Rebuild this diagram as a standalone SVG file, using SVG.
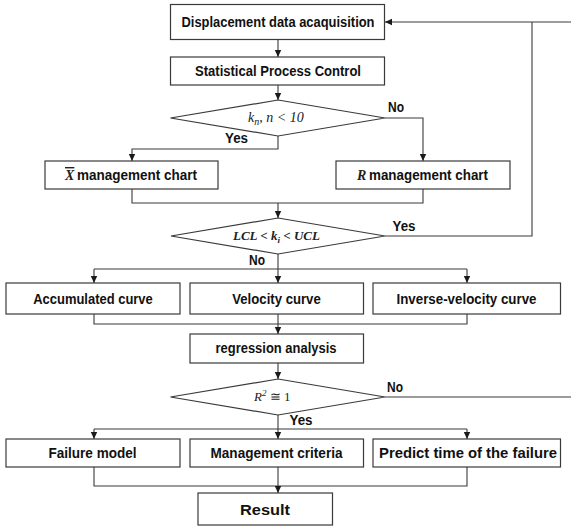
<svg xmlns="http://www.w3.org/2000/svg" width="571" height="526" viewBox="0 0 571 526">
<style>
.box{fill:#fff;stroke:#3a3a3a;stroke-width:1.2}
.t{font-family:"Liberation Sans",Arial,sans-serif;font-weight:bold;font-size:14px;fill:#111;text-anchor:middle}
.lb{font-family:"Liberation Sans",Arial,sans-serif;font-weight:bold;font-size:14px;fill:#111}
.m{font-family:"Liberation Serif","Times New Roman",serif;font-style:italic;font-size:13px;fill:#222}
.c{fill:none;stroke:#3a3a3a;stroke-width:1.1}
.a{fill:none;stroke:#3a3a3a;stroke-width:1.1;marker-end:url(#ah)}
</style>
<defs>
<marker id="ah" markerWidth="8" markerHeight="8" refX="7" refY="4" orient="auto" markerUnits="userSpaceOnUse">
<path d="M0,0.8 L7,4 L0,7.2 Z" fill="#1a1a1a"/>
</marker>
</defs>
<rect width="571" height="526" fill="#fff"/>
<g id="connectors">
<line class="a" x1="278" y1="39.5" x2="278" y2="57"/>
<line class="a" x1="278" y1="85" x2="278" y2="100"/>
<polyline class="a" points="278,136 278,149 132,149 132,161"/>
<polyline class="a" points="385,118 423,118 423,161"/>
<polyline class="c" points="132,189 132,203 423,203 423,189"/>
<line class="a" x1="278" y1="203" x2="278" y2="218"/>
<polyline class="c" points="385,236 532,236 532,22"/>
<line class="a" x1="571" y1="22" x2="385" y2="22"/>
<line class="c" x1="278" y1="254" x2="278" y2="269"/>
<line class="c" x1="94" y1="269" x2="467" y2="269"/>
<line class="a" x1="94" y1="269" x2="94" y2="283"/>
<line class="a" x1="278" y1="269" x2="278" y2="283"/>
<line class="a" x1="467" y1="269" x2="467" y2="283"/>
<polyline class="c" points="94,314 94,324 467,324 467,314"/>
<line class="c" x1="278" y1="314" x2="278" y2="324"/>
<line class="a" x1="278" y1="324" x2="278" y2="334"/>
<line class="a" x1="278" y1="363" x2="278" y2="379"/>
<line class="c" x1="385" y1="397" x2="571" y2="397"/>
<line class="c" x1="278" y1="415" x2="278" y2="429"/>
<line class="c" x1="94" y1="429" x2="467" y2="429"/>
<line class="a" x1="94" y1="429" x2="94" y2="439"/>
<line class="a" x1="278" y1="429" x2="278" y2="439"/>
<line class="a" x1="467" y1="429" x2="467" y2="439"/>
<polyline class="c" points="94,467 94,486 467,486 467,467"/>
<line class="c" x1="278" y1="467" x2="278" y2="486"/>
<line class="a" x1="278" y1="486" x2="278" y2="493"/>
<text class="lb" x="388" y="112" textLength="16" lengthAdjust="spacingAndGlyphs">No</text>
<text class="lb" x="225" y="143" textLength="23" lengthAdjust="spacingAndGlyphs">Yes</text>
<text class="lb" x="392.5" y="231" textLength="23" lengthAdjust="spacingAndGlyphs">Yes</text>
<text class="lb" x="249" y="265" textLength="16" lengthAdjust="spacingAndGlyphs">No</text>
<text class="lb" x="387" y="392" textLength="16" lengthAdjust="spacingAndGlyphs">No</text>
<text class="lb" x="289.5" y="425" textLength="23" lengthAdjust="spacingAndGlyphs">Yes</text>
</g>
<g id="n1"><rect class="box" x="170.5" y="4.5" width="214" height="35"/><text class="t" x="278" y="27" textLength="193" lengthAdjust="spacingAndGlyphs">Displacement data acaquisition</text></g>
<g id="n2"><rect class="box" x="170.5" y="57" width="214" height="28"/><text class="t" x="278" y="76" textLength="166" lengthAdjust="spacingAndGlyphs">Statistical Process Control</text></g>
<g id="d1"><polygon class="box" points="278,100 385,118 278,136 170.5,118"/><text class="m" x="248" y="122" style="font-size:14px">k<tspan style="font-size:10px" dy="3">n</tspan><tspan dy="-3">, n &lt; 10</tspan></text></g>
<g id="nX"><rect class="box" x="45" y="161" width="173" height="28"/><text class="m" x="65" y="180" style="font-size:14px;font-weight:bold" text-decoration="overline">X</text><text class="lb" x="77" y="180" textLength="120" lengthAdjust="spacingAndGlyphs">management chart</text></g>
<g id="nR"><rect class="box" x="336" y="161" width="174" height="28"/><text class="m" x="357" y="180" style="font-size:14px;font-weight:bold">R</text><text class="lb" x="369" y="180" textLength="119" lengthAdjust="spacingAndGlyphs">management chart</text></g>
<g id="d2"><polygon class="box" points="278,218 385,236 278,254 171,236"/><text class="m" x="233" y="240" style="font-weight:bold">LCL &lt; k<tspan style="font-size:9px" dy="3">i</tspan><tspan dy="-3"> &lt; UCL</tspan></text></g>
<g id="n3"><rect class="box" x="6" y="283" width="174" height="31"/><text class="t" x="93" y="303.5" textLength="119.5" lengthAdjust="spacingAndGlyphs">Accumulated curve</text></g>
<g id="n4"><rect class="box" x="190" y="283" width="173.5" height="31"/><text class="t" x="276.5" y="303.5" textLength="88.5" lengthAdjust="spacingAndGlyphs">Velocity curve</text></g>
<g id="n5"><rect class="box" x="373" y="283" width="187.5" height="31"/><text class="t" x="466.5" y="303.5" textLength="140" lengthAdjust="spacingAndGlyphs">Inverse-velocity curve</text></g>
<g id="n6"><rect class="box" x="190" y="334" width="173.5" height="29"/><text class="t" x="276" y="353" textLength="121" lengthAdjust="spacingAndGlyphs">regression analysis</text></g>
<g id="d3"><polygon class="box" points="278,379 385,397 278,415 170.5,397"/><text class="m" x="254" y="401">R<tspan style="font-size:9px" dy="-5">2</tspan><tspan dy="5" style="font-style:normal"> ≅ 1</tspan></text></g>
<g id="n7"><rect class="box" x="6" y="439" width="174" height="28"/><text class="t" x="92.5" y="457.5" textLength="88" lengthAdjust="spacingAndGlyphs">Failure model</text></g>
<g id="n8"><rect class="box" x="190" y="439" width="173.5" height="28"/><text class="t" x="276.5" y="457.5" textLength="132" lengthAdjust="spacingAndGlyphs">Management criteria</text></g>
<g id="n9"><rect class="box" x="373" y="439" width="187.5" height="28"/><text class="t" x="468" y="457.5" textLength="178" lengthAdjust="spacingAndGlyphs">Predict time of the failure</text></g>
<g id="n10"><rect class="box" x="198" y="493" width="134.5" height="32"/><text class="t" x="265" y="514.5" textLength="50" lengthAdjust="spacingAndGlyphs">Result</text></g>
</svg>
